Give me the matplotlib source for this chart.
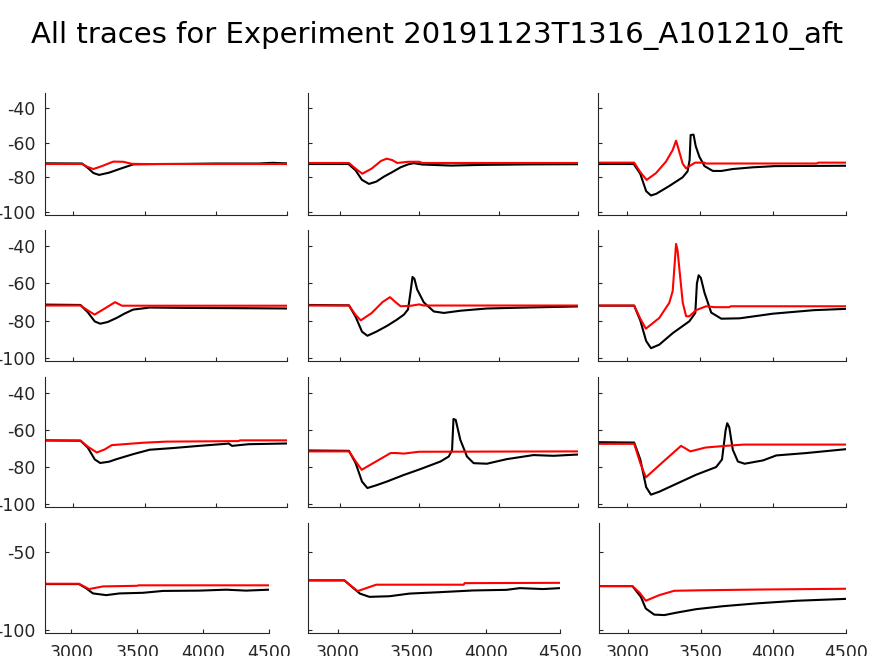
import matplotlib
matplotlib.use("Agg")
import matplotlib.pyplot as plt

plt.rcParams["axes.unicode_minus"] = False

# Traces per subplot (1..12, row by row): time in ms, voltage in mV
t1_k = [2800, 3060, 3100, 3140, 3180, 3250, 3330, 3420, 3600, 3800, 4000, 4300, 4400, 4450, 4500]
v1_k = [-71.9, -72.0, -74.5, -77.5, -78.6, -77.3, -75.0, -72.5, -72.3, -72.2, -72.0, -72.0, -71.6, -71.8, -71.9]
t1_r = [2800, 3060, 3100, 3140, 3200, 3280, 3350, 3410, 3500, 4500]
v1_r = [-72.3, -72.3, -74.0, -75.2, -73.5, -70.9, -71.0, -72.2, -72.3, -72.3]

t2_k = [2800, 3055, 3100, 3140, 3184, 3230, 3278, 3330, 3383, 3430, 3466, 3520, 3700, 3900, 4200, 4500]
v2_k = [-72.3, -72.3, -76.0, -81.5, -83.8, -82.5, -79.6, -77.0, -74.2, -72.5, -71.8, -72.6, -73.2, -72.8, -72.5, -72.4]
t2_r = [2800, 3058, 3100, 3142, 3200, 3260, 3295, 3330, 3362, 3430, 3500, 3520, 4500]
v2_r = [-71.7, -71.7, -75.0, -77.9, -75.0, -70.5, -69.2, -70.0, -71.7, -71.0, -71.0, -71.7, -71.7]

t3_k = [2800, 3045, 3090, 3130, 3163, 3200, 3289, 3380, 3414, 3428, 3435, 3455, 3470, 3495, 3530, 3587, 3647, 3723, 3862, 4014, 4500]
v3_k = [-72.3, -72.3, -78.0, -88.0, -90.5, -89.5, -85.0, -80.0, -76.5, -70.0, -55.5, -55.3, -62.0, -68.1, -73.5, -76.3, -76.3, -75.2, -74.2, -73.5, -73.3]
t3_r = [2800, 3048, 3090, 3133, 3197, 3266, 3312, 3335, 3350, 3380, 3403, 3465, 3530, 3540, 4300, 4310, 4500]
v3_r = [-71.5, -71.5, -77.0, -81.5, -77.6, -70.9, -64.2, -58.8, -63.0, -72.0, -74.8, -71.5, -71.5, -72.0, -72.0, -71.5, -71.5]

t4_k = [2800, 3049, 3100, 3150, 3188, 3240, 3303, 3360, 3419, 3535, 3800, 4100, 4500]
v4_k = [-71.4, -71.6, -75.5, -80.5, -81.7, -80.8, -78.6, -76.2, -74.1, -73.0, -73.2, -73.3, -73.5]
t4_r = [2800, 3049, 3100, 3148, 3220, 3292, 3340, 4500]
v4_r = [-71.9, -71.9, -74.5, -76.8, -73.5, -70.1, -72.0, -72.0]

t5_k = [2800, 3058, 3100, 3140, 3174, 3230, 3299, 3360, 3404, 3430, 3445, 3458, 3470, 3487, 3529, 3592, 3655, 3760, 3927, 4220, 4500]
v5_k = [-71.6, -71.8, -78.0, -86.0, -88.2, -86.0, -82.8, -79.5, -76.8, -74.0, -65.0, -56.5, -57.5, -63.2, -70.2, -75.1, -75.9, -74.7, -73.5, -72.9, -72.4]
t5_r = [2800, 3058, 3100, 3132, 3200, 3270, 3316, 3350, 3383, 3450, 3500, 3530, 4500]
v5_r = [-71.9, -71.9, -77.0, -79.9, -76.0, -70.0, -67.4, -70.0, -72.3, -72.0, -71.3, -71.9, -71.9]

t6_k = [2800, 3048, 3090, 3130, 3163, 3220, 3312, 3426, 3467, 3478, 3490, 3505, 3530, 3576, 3645, 3771, 3999, 4280, 4500]
v6_k = [-72.0, -72.0, -80.0, -91.0, -94.9, -93.0, -86.8, -80.4, -75.9, -60.0, -55.6, -57.0, -65.0, -75.7, -79.0, -78.8, -76.3, -74.4, -73.7]
t6_r = [2800, 3048, 3090, 3128, 3220, 3289, 3312, 3325, 3335, 3345, 3358, 3381, 3404, 3426, 3472, 3541, 3600, 3700, 3710, 4500]
v6_r = [-71.9, -71.9, -79.0, -84.4, -78.6, -70.4, -64.1, -50.0, -38.7, -42.0, -52.3, -70.4, -77.7, -77.7, -74.4, -72.3, -72.8, -72.8, -72.3, -72.3]

t7_k = [2800, 3049, 3100, 3150, 3188, 3250, 3303, 3419, 3535, 3697, 3882, 4068, 4090, 4114, 4230, 4500]
v7_k = [-65.6, -65.8, -69.5, -76.0, -77.9, -77.2, -75.8, -73.1, -70.7, -69.8, -68.6, -67.5, -67.3, -68.6, -67.7, -67.3]
t7_r = [2800, 3049, 3100, 3164, 3220, 3269, 3490, 3650, 4160, 4170, 4500]
v7_r = [-65.7, -65.7, -69.0, -72.2, -70.5, -68.2, -66.9, -66.3, -66.0, -65.6, -65.6]

t8_k = [2800, 3058, 3100, 3140, 3174, 3230, 3299, 3400, 3508, 3634, 3686, 3707, 3716, 3730, 3759, 3801, 3843, 3926, 4052, 4220, 4345, 4500]
v8_k = [-71.1, -71.3, -78.0, -88.0, -91.5, -90.0, -87.9, -84.5, -81.2, -77.1, -74.4, -71.0, -54.0, -54.5, -65.3, -74.4, -78.0, -78.3, -75.8, -73.6, -74.0, -73.3]
t8_r = [2800, 3058, 3100, 3138, 3230, 3320, 3360, 3404, 3450, 3500, 4500]
v8_r = [-71.6, -71.6, -77.0, -81.6, -77.0, -72.5, -72.5, -72.8, -72.3, -71.8, -71.6]

t9_k = [2800, 3048, 3090, 3130, 3163, 3220, 3335, 3472, 3610, 3650, 3675, 3686, 3700, 3724, 3759, 3805, 3931, 4022, 4228, 4500]
v9_k = [-66.6, -66.8, -76.0, -91.0, -95.1, -93.5, -89.3, -84.3, -80.1, -76.0, -60.0, -56.3, -58.5, -70.7, -77.1, -78.3, -76.5, -73.8, -72.5, -70.4]
t9_r = [2800, 3048, 3090, 3128, 3250, 3369, 3400, 3433, 3537, 3674, 3800, 4500]
v9_r = [-67.5, -67.5, -78.0, -85.7, -77.0, -68.6, -70.0, -71.6, -69.5, -68.6, -67.9, -67.9]

t10_k = [2800, 3058, 3114, 3164, 3265, 3366, 3543, 3695, 3973, 4175, 4326, 4500]
v10_k = [-70.4, -70.4, -73.2, -76.4, -77.5, -76.4, -76.0, -74.8, -74.6, -74.0, -74.6, -74.0]
t10_r = [2800, 3058, 3134, 3240, 3500, 3510, 4500]
v10_r = [-70.2, -70.2, -73.6, -71.9, -71.5, -71.2, -71.2]

t11_k = [2800, 3045, 3105, 3150, 3214, 3350, 3485, 3688, 3913, 4139, 4229, 4387, 4500]
v11_k = [-68.0, -68.0, -72.9, -76.5, -78.6, -78.2, -76.5, -75.6, -74.5, -74.1, -73.0, -73.6, -73.0]
t11_r = [2800, 3045, 3090, 3135, 3260, 3500, 3850, 3857, 4500]
v11_r = [-68.0, -68.0, -71.5, -74.9, -70.8, -70.8, -70.8, -69.8, -69.6]

t12_k = [2800, 3030, 3088, 3122, 3180, 3250, 3330, 3469, 3653, 3884, 4161, 4500]
v12_k = [-71.7, -71.7, -78.6, -86.1, -90.0, -90.3, -88.8, -86.5, -84.6, -82.8, -81.1, -79.9]
t12_r = [2800, 3030, 3080, 3122, 3215, 3318, 3492, 3907, 4500]
v12_r = [-71.7, -71.7, -76.0, -81.1, -77.5, -74.7, -74.4, -73.9, -73.4]

black_traces = [(t1_k, v1_k), (t2_k, v2_k), (t3_k, v3_k), (t4_k, v4_k), (t5_k, v5_k), (t6_k, v6_k),
                (t7_k, v7_k), (t8_k, v8_k), (t9_k, v9_k), (t10_k, v10_k), (t11_k, v11_k), (t12_k, v12_k)]
red_traces = [(t1_r, v1_r), (t2_r, v2_r), (t3_r, v3_r), (t4_r, v4_r), (t5_r, v5_r), (t6_r, v6_r),
              (t7_r, v7_r), (t8_r, v8_r), (t9_r, v9_r), (t10_r, v10_r), (t11_r, v11_r), (t12_r, v12_r)]

xticks = [3000, 3500, 4000, 4500]
yticks_top = [-100, -80, -60, -40]
yticks_bottom = [-100, -50]

W, H = 874, 656
# axes boxes in pixels: left, right, top, bottom
rows_px = [(93, 215), (230, 361), (377, 507), (523, 633)]
cols_px = [(45, 287), (308, 578), (598, 846)]
cols_last_px = [(45, 269), (308, 560), (599, 846)]

fig = plt.figure(figsize=(W / 100, H / 100), dpi=100)
fig.suptitle("All traces for Experiment 20191123T1316_A101210_aft",
             fontsize=21, y=1 - 35 / H, va="center", color="black")

grey = "#262626"
for i in range(12):
    r, c = divmod(i, 3)
    top, bot = rows_px[r]
    left, right = cols_last_px[c] if r == 3 else cols_px[c]
    ax = fig.add_axes([left / W, 1 - bot / H, (right - left) / W, (bot - top) / H])

    tk, vk = black_traces[i]
    tr, vr = red_traces[i]
    ax.plot(tk, vk, color="black", lw=1.5)
    ax.plot(tr, vr, color="red", lw=1.5)

    ax.set_xlim(2800, 4500)
    ax.set_ylim(-101.8, -31.2)
    ax.set_xticks(xticks)
    ax.set_yticks(yticks_bottom if r == 3 else yticks_top)
    ax.spines["top"].set_visible(False)
    ax.spines["right"].set_visible(False)
    for s in ("left", "bottom"):
        ax.spines[s].set_color(grey)
        ax.spines[s].set_linewidth(0.8)
    ax.tick_params(direction="in", length=3, width=0.8, color=grey,
                   labelcolor=grey, labelsize=12.5)
    ax.tick_params(axis="y", pad=7)
    ax.tick_params(axis="x", pad=8)
    if c != 0:
        ax.set_yticklabels([])
    if r != 3:
        ax.set_xticklabels([])

fig.savefig("out.png", dpi=100)
